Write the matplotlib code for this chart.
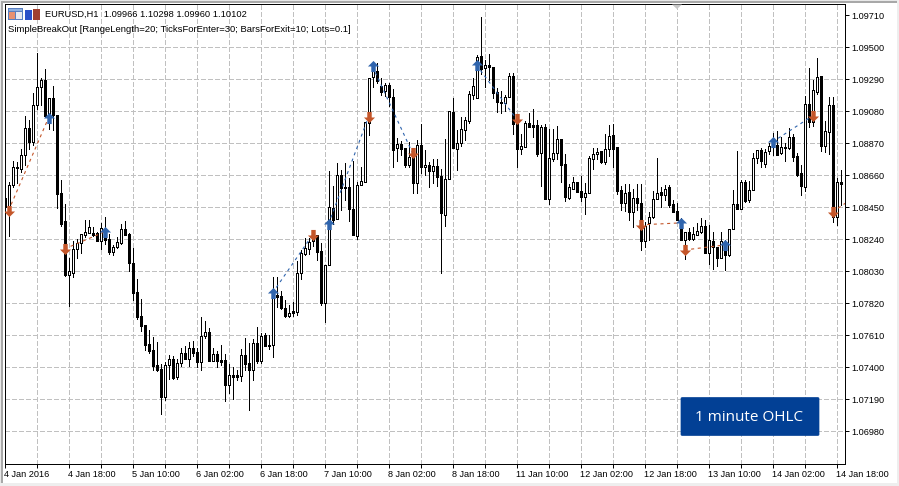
import matplotlib
matplotlib.use('Agg')
import matplotlib.pyplot as plt
import numpy as np
from matplotlib.path import Path
from matplotlib.patches import Rectangle, FancyBboxPatch, Polygon

#velas H1 EURUSD, en puntos (1e-5)
opens = [
108511,108452,108596,108714,108701,108793,108970,108878,109121,109239,
109285,109055,109167,109055,108543,108360,108005,108019,108176,108215,
108268,108281,108281,108281,108228,108261,108242,108156,108189,108215,
108307,108274,108084,107894,107736,107677,107552,107513,107415,107389,
107205,107415,107454,107336,107428,107493,107454,107526,107500,107434,
107605,107631,107441,107487,107448,107448,107283,107349,107349,107343,
107480,107428,107382,107559,107441,107612,107546,107546,107874,107868,
107789,107736,107769,107763,108019,108143,108176,108228,108268,108163,
107822,108071,108445,108373,108662,108583,108583,108438,108261,108596,
108616,109003,109305,109344,109246,109213,109252,109173,108839,108865,
108839,108727,108780,108609,108858,108714,108727,108688,108721,108655,
108399,108635,109075,108832,108872,108957,109016,109187,109167,109443,
109364,109383,109370,109206,109141,109134,109173,109311,109003,108832,
108845,109003,108990,108990,108806,108977,108504,108767,108806,108898,
108734,108511,108570,108616,108557,108517,108543,108767,108799,108819,
108747,108832,108924,108845,108563,108478,108550,108419,108511,108478,
108228,108347,108386,108504,108550,108530,108583,108471,108425,108320,
108235,108288,108242,108268,108288,108327,108150,108228,108189,108117,
108176,108137,108307,108471,108438,108616,108498,108563,108773,108826,
108734,108819,108845,108858,108806,108845,108839,108911,108786,108675,
108583,109128,109009,109206,109311,108852,108944,109121,108386,108616]
highs = [
108511,108616,108753,108747,108832,109049,109023,109200,109462,109298,
109357,109167,109246,109055,108629,108471,108117,108228,108242,108274,
108366,108366,108320,108288,108347,108386,108274,108202,108255,108340,
108360,108281,108183,107979,107848,107677,107644,107599,107566,107421,
107434,107480,107474,107454,107526,107539,107566,107572,107526,107730,
107703,107658,107526,107507,107546,107487,107421,107402,107382,107520,
107592,107559,107585,107664,107625,107625,107612,107992,107992,107900,
107841,107809,107828,108097,108169,108248,108248,108268,108268,108215,
108071,108688,108589,108740,108694,108740,108642,108753,108616,108714,
109009,109298,109397,109397,109298,109265,109265,109226,108904,108885,
108839,108878,108806,108891,108996,108826,108747,108767,108767,108701,
108898,109082,109167,108957,109042,109042,109213,109298,109449,109698,
109416,109456,109370,109233,109213,109187,109331,109331,109003,108931,
109016,109068,109095,109023,108990,108996,108963,108963,108983,108898,
108799,108603,108648,108616,108655,108609,108786,108839,108839,108819,
108931,108990,108996,108845,108589,108603,108603,108570,108603,108603,
108353,108419,108557,108773,108583,108596,108596,108498,108478,108379,
108288,108314,108320,108347,108379,108366,108334,108288,108189,108288,
108235,108307,108563,108819,108629,108629,108622,108806,108826,108839,
108832,108872,108937,108950,108911,108872,108970,108931,108806,108727,
109180,109364,109285,109429,109311,109016,109173,109173,108642,108694]
lows = [
108432,108261,108583,108609,108681,108727,108832,108858,109095,109121,
109042,108963,108957,108445,108327,107999,107802,107992,108117,108150,
108255,108281,108261,108228,108176,108209,108143,108137,108183,108209,
108268,108032,107841,107717,107638,107513,107493,107382,107375,107093,
107185,107323,107323,107323,107408,107454,107408,107474,107402,107382,
107592,107441,107441,107402,107415,107178,107231,107192,107316,107310,
107382,107119,107316,107428,107428,107539,107520,107467,107795,107782,
107730,107730,107736,107743,107979,108137,108143,108196,108104,107809,
107697,108071,108340,108373,108432,108498,108360,108268,108242,108596,
108616,108924,109239,109265,109187,109180,109114,108714,108753,108793,
108714,108714,108543,108543,108675,108662,108583,108609,108589,108019,
108327,108635,108839,108694,108852,108891,109003,109160,109167,109324,
109239,109285,109167,109075,109068,109082,109173,108931,108714,108799,
108845,108977,108911,108786,108589,108504,108471,108753,108767,108616,
108491,108504,108570,108550,108491,108406,108543,108701,108767,108740,
108734,108786,108714,108537,108432,108425,108366,108320,108432,108169,
108189,108235,108379,108504,108452,108498,108452,108419,108366,108235,
108110,108235,108235,108268,108281,108150,108078,108045,108064,108117,
108038,108130,108307,108438,108438,108484,108484,108563,108740,108714,
108714,108799,108793,108793,108799,108753,108832,108753,108655,108530,
108557,108977,108983,109193,108819,108813,108799,108353,108334,108465]
closes = [
108452,108596,108714,108708,108793,108970,108878,109121,109239,109285,
109049,109167,109055,108537,108340,108005,108032,108176,108215,108274,
108288,108320,108268,108228,108314,108235,108156,108189,108222,108307,
108268,108084,107887,107730,107671,107546,107507,107408,107382,107205,
107415,107454,107329,107428,107493,107454,107526,107493,107434,107605,
107631,107441,107487,107441,107434,107283,107349,107336,107336,107480,
107421,107382,107559,107441,107605,107539,107539,107861,107861,107789,
107736,107756,107756,108019,108150,108183,108222,108248,108156,107822,
108071,108452,108366,108662,108576,108576,108438,108268,108596,108622,
109009,109298,109344,109278,109206,109252,109173,108826,108865,108832,
108727,108780,108609,108858,108714,108727,108688,108721,108648,108412,
108635,109082,108839,108872,108963,109023,109193,109246,109436,109357,
109383,109370,109200,109141,109134,109173,109311,108996,108832,108852,
109003,108977,108977,108799,108977,108504,108773,108806,108898,108727,
108517,108583,108616,108550,108517,108543,108773,108799,108813,108747,
108832,108918,108832,108557,108478,108543,108419,108511,108478,108228,
108327,108386,108504,108543,108530,108570,108465,108419,108366,108235,
108288,108242,108274,108294,108327,108150,108235,108189,108117,108228,
108137,108307,108471,108438,108616,108491,108563,108773,108826,108753,
108813,108852,108858,108793,108845,108839,108911,108780,108662,108589,
109128,109009,109220,109305,108852,108950,109121,108386,108616,108603]

#operaciones: barra y precio de entrada y salida
trade_side = ['sell','sell','buy','buy','buy','buy','sell','sell','buy','sell']
trade_bar_in = [1,15,67,81,92,118,159,170,192,207]
trade_bar_out = [11,25,77,91,102,128,169,180,202,217]
trade_price_in = [108427,108176,107887,108340,109374,109383,108334,108169,108878,108419]
trade_price_out = [109036,108288,108268,109042,108806,109029,108347,108202,109049,108596]

y_ticks = [1.09710,1.09500,1.09290,1.09080,1.08870,1.08660,1.08450,1.08240,1.08030,1.07820,
           1.07610,1.07400,1.07190,1.06980]
x_labels = ['4 Jan 2016','4 Jan 18:00','5 Jan 10:00','6 Jan 02:00','6 Jan 18:00','7 Jan 10:00','8 Jan 02:00',
            '8 Jan 18:00','11 Jan 10:00','12 Jan 02:00','12 Jan 18:00','13 Jan 10:00','14 Jan 02:00','14 Jan 18:00']

ORANGE = '#c4562a'
BLUE = '#2f64ad'
W, H = 899, 486
px = 0.71  #algo menos de un pixel a 100 dpi, asi el snap deja 1 px

plt.rcParams['font.family'] = ['Liberation Sans', 'DejaVu Sans']
plt.rcParams['lines.scale_dashes'] = False

fig = plt.figure(figsize=(W/100, H/100), dpi=100, facecolor='white')
ax = fig.add_axes([4.5/W, (H-463.5)/H, 840/W, 459/H])
ax.set_xlim(0, 210)
ax.set_ylim(1.06768, 1.09780)

o = np.array(opens)/1e5
h = np.array(highs)/1e5
l = np.array(lows)/1e5
c = np.array(closes)/1e5
k = np.arange(len(o))
up = c > o

#velas
ax.vlines(k, l, h, colors='black', lw=px, antialiased=False, zorder=2)
ax.bar(k[~up], (o-c)[~up], bottom=c[~up], width=0.5, color='black', edgecolor='black', lw=px, antialiased=False, zorder=3)
ax.bar(k[up], (c-o)[up], bottom=o[up], width=0.5, color='white', edgecolor='black', lw=px, antialiased=False, zorder=3)

#flechas de operaciones
arrow_up = Path([(0,1),(1,0),(0.4,0),(0.4,-1),(-0.4,-1),(-0.4,0),(-1,0),(0,1)], closed=True)
arrow_down = Path([(0,-1),(1,0),(0.4,0),(0.4,1),(-0.4,1),(-0.4,0),(-1,0),(0,-1)], closed=True)
for i in range(len(trade_side)):
    x0, x1 = trade_bar_in[i], trade_bar_out[i]
    p0, p1 = trade_price_in[i]/1e5, trade_price_out[i]/1e5
    buy = trade_side[i] == 'buy'
    col = BLUE if buy else ORANGE
    ax.plot([x0, x1], [p0, p1], color=col, lw=0.8, ls=(0, (2.2, 2.6)), zorder=4)
    ax.plot([x0], [p0], marker=arrow_up if buy else arrow_down, ms=8, color=col, mew=0, ls='none', zorder=5)
    if x1 < 210:
        ax.plot([x1], [p1], marker=arrow_down if buy else arrow_up, ms=8, color=ORANGE if buy else BLUE, mew=0, ls='none', zorder=5)

#ejes
ax.yaxis.tick_right()
ax.set_yticks(y_ticks)
ax.set_yticklabels(['%.5f' % v for v in y_ticks])
grid_bars = list(range(0, 209, 8))
ax.set_xticks(grid_bars)
labs = [''] * len(grid_bars)
labs[::2] = x_labels
ax.set_xticklabels(labs, ha='left')
ax.tick_params(axis='both', length=3, width=px, color='black', labelsize=6.6, pad=2.2)
ax.tick_params(axis='x', pad=1.5)
ax.set_axisbelow(True)
ax.grid(True, color='#c0c0c0', lw=px, ls=(0, (2.9, 1.5)), antialiased=False)
ax.yaxis.get_gridlines()[0].set_visible(False)
for s in ax.spines.values():
    s.set_linewidth(px)
    s.set_color('black')

#cabecera
fig.text(45/W, 1-14/H, 'EURUSD,H1  1.09966 1.10298 1.09960 1.10102', fontsize=6.7, va='center', ha='left')
fig.text(8/W, 1-29.5/H, 'SimpleBreakOut [RangeLength=20; TicksForEnter=30; BarsForExit=10; Lots=0.1]',
         fontsize=6.8, va='center', ha='left')

#boton
fig.patches.append(FancyBboxPatch((681/W, 1-435.5/H), 138/W, 38/H, boxstyle='round,pad=0,rounding_size=0.002',
                                  transform=fig.transFigure, fc='#024095', ec='#024095', lw=0.5, mutation_aspect=1))
fig.text(749/W, 1-417/H, '1 minute OHLC', color='white', fontsize=11, family=['Open Sans', 'DejaVu Sans'],
         ha='center', va='center')

#marco de ventana e iconos
def rect(x, y, w, hh, col):
    fig.patches.append(Rectangle((x/W, 1-(y+hh)/H), w/W, hh/H, transform=fig.transFigure, fc=col, ec='none', zorder=10))

rect(0, 0, W, 1, '#e8e8e8')
rect(0, 1, W, 2.5, '#a8a8a8')
rect(0, 0, 1, H, '#e8e8e8')
rect(1, 1, 2.5, H-1, '#a8a8a8')
rect(0, 483, W, 3, '#eeeeee')
rect(897, 0, 2, H, '#eeeeee')
rect(8, 8, 15, 12, '#5a7fc0')
rect(9, 9, 13, 2, '#8fb0e0')
rect(9, 12, 6, 7, '#e89070')
rect(16, 12, 6, 7, '#e8e8f0')
rect(25, 10, 7, 10, '#2a50c8')
rect(33, 9, 7, 11, '#a04030')
fig.patches.append(Polygon([(672/W, 1-4.5/H), (682/W, 1-4.5/H), (677/W, 1-9/H)], transform=fig.transFigure,
                           fc='#c8c8c8', ec='none', zorder=10))

fig.savefig('out.png', dpi=100, facecolor='white')
